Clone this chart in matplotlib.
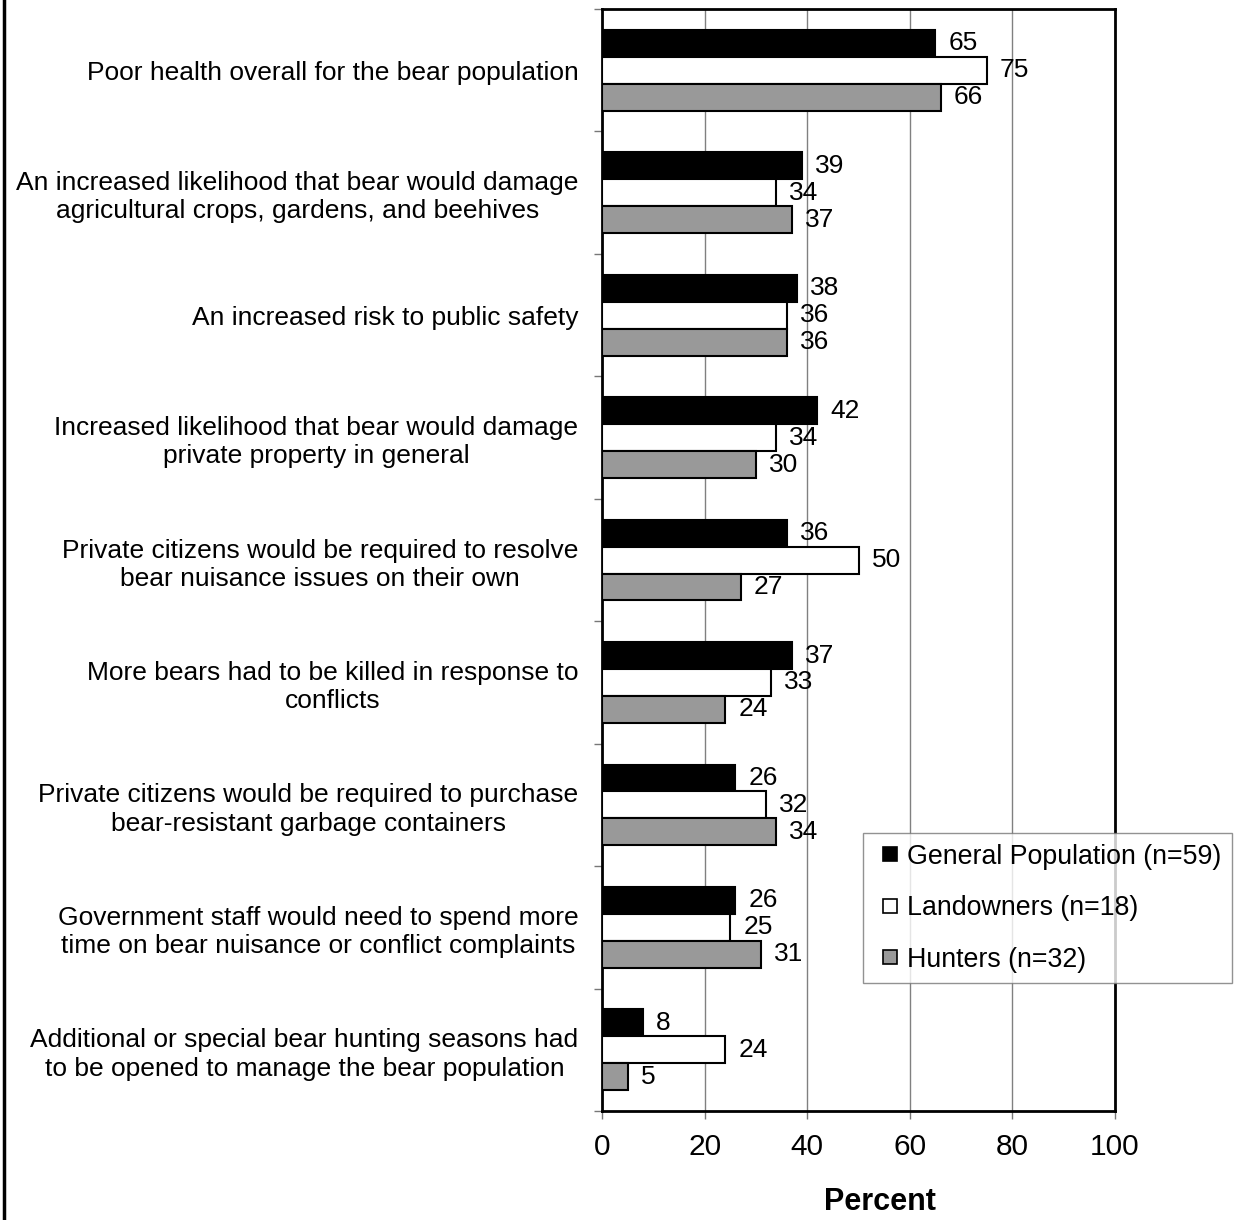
import matplotlib.pyplot as plt
import numpy as np
from matplotlib.lines import Line2D

plt.rcParams['font.family'] = ['Liberation Sans', 'DejaVu Sans']

categorias = [
    "Poor health overall for the bear population",
    "An increased likelihood that bear would damage\nagricultural crops, gardens, and beehives",
    "An increased risk to public safety",
    "Increased likelihood that bear would damage\nprivate property in general",
    "Private citizens would be required to resolve\nbear nuisance issues on their own",
    "More bears had to be killed in response to\nconflicts",
    "Private citizens would be required to purchase\nbear-resistant garbage containers",
    "Government staff would need to spend more\ntime on bear nuisance or conflict complaints",
    "Additional or special bear hunting seasons had\nto be opened to manage the bear population",
]

populacao_geral = [65, 39, 38, 42, 36, 37, 26, 26, 8]
proprietarios = [75, 34, 36, 34, 50, 33, 32, 25, 24]
cacadores = [66, 37, 36, 30, 27, 24, 34, 31, 5]

series = [
    ("General Population (n=59)", populacao_geral, "black"),
    ("Landowners (n=18)", proprietarios, "white"),
    ("Hunters (n=32)", cacadores, "#999999"),
]

fig = plt.figure(figsize=(12.41, 12.20), dpi=100)
ax = fig.add_axes([0.4851, 0.0893, 0.4134, 0.9033])

y = np.arange(len(categorias))
altura = 0.22
handles = []
for k, (nome, valores, cor) in enumerate(series):
    pos = y + (k - 1) * altura
    ax.barh(pos, valores, height=altura, color=cor, edgecolor="black",
            linewidth=1.5, zorder=3)
    for p, v in zip(pos, valores):
        ax.annotate(f"{v}", (v, p), xytext=(13, 0), textcoords="offset pixels",
                    ha="left", va="center", fontsize=19, zorder=4)
    handles.append(Line2D([], [], marker="s", linestyle="none", markersize=10.5,
                          markerfacecolor=cor, markeredgecolor="black",
                          markeredgewidth=1.2, label=nome))

ax.set_xlim(0, 100)
ax.set_ylim(len(categorias) - 0.5, -0.5)
ax.set_xticks(range(0, 101, 20))
ax.tick_params(axis="x", labelsize=21.5, length=6, width=1, color="#777777",
               pad=10, direction="out")
ax.set_yticks(y)
ax.set_yticklabels(categorias, fontsize=19)
ax.tick_params(axis="y", which="major", length=0, pad=17)
ax.set_yticks(np.arange(len(categorias) + 1) - 0.5, minor=True)
ax.tick_params(axis="y", which="minor", length=6, width=1, color="#777777")
for lbl in ax.get_yticklabels():
    lbl.set_multialignment("center")
    lbl.set_linespacing(1.22)

ax.grid(axis="x", color="#808080", linewidth=1, zorder=0)
ax.set_axisbelow(True)
for lado in ax.spines.values():
    lado.set_linewidth(2)
    lado.set_color("black")

ax.set_xlabel("Percent", fontsize=22, fontweight="bold")
ax.xaxis.set_label_coords((880 - 602) / 513, -0.069)

leg = fig.legend(handles=handles, loc="upper left",
                 bbox_to_anchor=(863 / 1241, 1 - 833 / 1220),
                 fontsize=19.3, frameon=True, fancybox=False, handlelength=1.2,
                 handletextpad=0.05, labelspacing=0.95, borderpad=0.4,
                 borderaxespad=0)
leg.get_frame().set_edgecolor("#777777")
leg.get_frame().set_linewidth(1)

fig.add_artist(Line2D([4 / 1241, 4 / 1241], [0, 1], transform=fig.transFigure,
                      color="black", linewidth=2.5))

fig.savefig("out.png", dpi=100)
